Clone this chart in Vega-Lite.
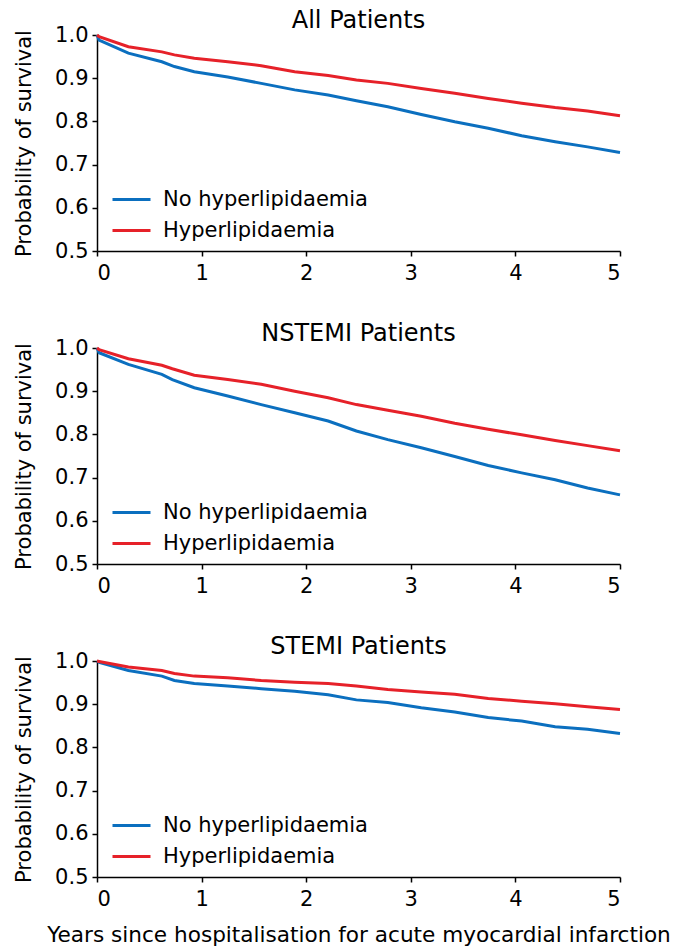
{
  "$schema": "https://vega.github.io/schema/vega-lite/v6.json",
  "padding": {"left": 13, "top": 9, "right": 5, "bottom": 0},
  "background": "white",
  "datasets": {
    "km": [
      {"p": "All", "g": "No hyperlipidaemia", "t": 0, "s": 1.0},
      {"p": "All", "g": "No hyperlipidaemia", "t": 0.02, "s": 0.988},
      {"p": "All", "g": "No hyperlipidaemia", "t": 0.3, "s": 0.958},
      {"p": "All", "g": "No hyperlipidaemia", "t": 0.62, "s": 0.938},
      {"p": "All", "g": "No hyperlipidaemia", "t": 0.74, "s": 0.927},
      {"p": "All", "g": "No hyperlipidaemia", "t": 0.93, "s": 0.915},
      {"p": "All", "g": "No hyperlipidaemia", "t": 1.25, "s": 0.903},
      {"p": "All", "g": "No hyperlipidaemia", "t": 1.57, "s": 0.888},
      {"p": "All", "g": "No hyperlipidaemia", "t": 1.89, "s": 0.873},
      {"p": "All", "g": "No hyperlipidaemia", "t": 2.21, "s": 0.861},
      {"p": "All", "g": "No hyperlipidaemia", "t": 2.48, "s": 0.848},
      {"p": "All", "g": "No hyperlipidaemia", "t": 2.78, "s": 0.834},
      {"p": "All", "g": "No hyperlipidaemia", "t": 3.1, "s": 0.816},
      {"p": "All", "g": "No hyperlipidaemia", "t": 3.42, "s": 0.799},
      {"p": "All", "g": "No hyperlipidaemia", "t": 3.74, "s": 0.784},
      {"p": "All", "g": "No hyperlipidaemia", "t": 4.06, "s": 0.767},
      {"p": "All", "g": "No hyperlipidaemia", "t": 4.38, "s": 0.753},
      {"p": "All", "g": "No hyperlipidaemia", "t": 4.69, "s": 0.741},
      {"p": "All", "g": "No hyperlipidaemia", "t": 5.0, "s": 0.728},
      {"p": "All", "g": "Hyperlipidaemia", "t": 0, "s": 1.0},
      {"p": "All", "g": "Hyperlipidaemia", "t": 0.02, "s": 0.996},
      {"p": "All", "g": "Hyperlipidaemia", "t": 0.3, "s": 0.973},
      {"p": "All", "g": "Hyperlipidaemia", "t": 0.62, "s": 0.961},
      {"p": "All", "g": "Hyperlipidaemia", "t": 0.74, "s": 0.954},
      {"p": "All", "g": "Hyperlipidaemia", "t": 0.93, "s": 0.946},
      {"p": "All", "g": "Hyperlipidaemia", "t": 1.25, "s": 0.938},
      {"p": "All", "g": "Hyperlipidaemia", "t": 1.57, "s": 0.929},
      {"p": "All", "g": "Hyperlipidaemia", "t": 1.89, "s": 0.915},
      {"p": "All", "g": "Hyperlipidaemia", "t": 2.21, "s": 0.906},
      {"p": "All", "g": "Hyperlipidaemia", "t": 2.48, "s": 0.896},
      {"p": "All", "g": "Hyperlipidaemia", "t": 2.78, "s": 0.888},
      {"p": "All", "g": "Hyperlipidaemia", "t": 3.1, "s": 0.876},
      {"p": "All", "g": "Hyperlipidaemia", "t": 3.42, "s": 0.865},
      {"p": "All", "g": "Hyperlipidaemia", "t": 3.74, "s": 0.853},
      {"p": "All", "g": "Hyperlipidaemia", "t": 4.06, "s": 0.842},
      {"p": "All", "g": "Hyperlipidaemia", "t": 4.38, "s": 0.832},
      {"p": "All", "g": "Hyperlipidaemia", "t": 4.69, "s": 0.824},
      {"p": "All", "g": "Hyperlipidaemia", "t": 5.0, "s": 0.813},
      {"p": "NSTEMI", "g": "No hyperlipidaemia", "t": 0, "s": 1.0},
      {"p": "NSTEMI", "g": "No hyperlipidaemia", "t": 0.02, "s": 0.989},
      {"p": "NSTEMI", "g": "No hyperlipidaemia", "t": 0.3, "s": 0.962},
      {"p": "NSTEMI", "g": "No hyperlipidaemia", "t": 0.62, "s": 0.939},
      {"p": "NSTEMI", "g": "No hyperlipidaemia", "t": 0.72, "s": 0.927},
      {"p": "NSTEMI", "g": "No hyperlipidaemia", "t": 0.93, "s": 0.908},
      {"p": "NSTEMI", "g": "No hyperlipidaemia", "t": 1.25, "s": 0.889},
      {"p": "NSTEMI", "g": "No hyperlipidaemia", "t": 1.57, "s": 0.869},
      {"p": "NSTEMI", "g": "No hyperlipidaemia", "t": 1.89, "s": 0.850},
      {"p": "NSTEMI", "g": "No hyperlipidaemia", "t": 2.21, "s": 0.831},
      {"p": "NSTEMI", "g": "No hyperlipidaemia", "t": 2.48, "s": 0.808},
      {"p": "NSTEMI", "g": "No hyperlipidaemia", "t": 2.78, "s": 0.788},
      {"p": "NSTEMI", "g": "No hyperlipidaemia", "t": 3.1, "s": 0.769},
      {"p": "NSTEMI", "g": "No hyperlipidaemia", "t": 3.42, "s": 0.749},
      {"p": "NSTEMI", "g": "No hyperlipidaemia", "t": 3.74, "s": 0.728},
      {"p": "NSTEMI", "g": "No hyperlipidaemia", "t": 4.06, "s": 0.711},
      {"p": "NSTEMI", "g": "No hyperlipidaemia", "t": 4.38, "s": 0.695},
      {"p": "NSTEMI", "g": "No hyperlipidaemia", "t": 4.69, "s": 0.676},
      {"p": "NSTEMI", "g": "No hyperlipidaemia", "t": 5.0, "s": 0.660},
      {"p": "NSTEMI", "g": "Hyperlipidaemia", "t": 0, "s": 1.0},
      {"p": "NSTEMI", "g": "Hyperlipidaemia", "t": 0.02, "s": 0.996},
      {"p": "NSTEMI", "g": "Hyperlipidaemia", "t": 0.3, "s": 0.975},
      {"p": "NSTEMI", "g": "Hyperlipidaemia", "t": 0.62, "s": 0.960},
      {"p": "NSTEMI", "g": "Hyperlipidaemia", "t": 0.72, "s": 0.952},
      {"p": "NSTEMI", "g": "Hyperlipidaemia", "t": 0.93, "s": 0.937},
      {"p": "NSTEMI", "g": "Hyperlipidaemia", "t": 1.25, "s": 0.927},
      {"p": "NSTEMI", "g": "Hyperlipidaemia", "t": 1.57, "s": 0.916},
      {"p": "NSTEMI", "g": "Hyperlipidaemia", "t": 1.89, "s": 0.900},
      {"p": "NSTEMI", "g": "Hyperlipidaemia", "t": 2.21, "s": 0.885},
      {"p": "NSTEMI", "g": "Hyperlipidaemia", "t": 2.48, "s": 0.869},
      {"p": "NSTEMI", "g": "Hyperlipidaemia", "t": 2.78, "s": 0.856},
      {"p": "NSTEMI", "g": "Hyperlipidaemia", "t": 3.1, "s": 0.842},
      {"p": "NSTEMI", "g": "Hyperlipidaemia", "t": 3.42, "s": 0.826},
      {"p": "NSTEMI", "g": "Hyperlipidaemia", "t": 3.74, "s": 0.812},
      {"p": "NSTEMI", "g": "Hyperlipidaemia", "t": 4.06, "s": 0.799},
      {"p": "NSTEMI", "g": "Hyperlipidaemia", "t": 4.38, "s": 0.786},
      {"p": "NSTEMI", "g": "Hyperlipidaemia", "t": 4.69, "s": 0.774},
      {"p": "NSTEMI", "g": "Hyperlipidaemia", "t": 5.0, "s": 0.762},
      {"p": "STEMI", "g": "No hyperlipidaemia", "t": 0, "s": 1.0},
      {"p": "STEMI", "g": "No hyperlipidaemia", "t": 0.02, "s": 0.997},
      {"p": "STEMI", "g": "No hyperlipidaemia", "t": 0.3, "s": 0.978},
      {"p": "STEMI", "g": "No hyperlipidaemia", "t": 0.62, "s": 0.965},
      {"p": "STEMI", "g": "No hyperlipidaemia", "t": 0.74, "s": 0.955},
      {"p": "STEMI", "g": "No hyperlipidaemia", "t": 0.93, "s": 0.948},
      {"p": "STEMI", "g": "No hyperlipidaemia", "t": 1.25, "s": 0.942},
      {"p": "STEMI", "g": "No hyperlipidaemia", "t": 1.57, "s": 0.936},
      {"p": "STEMI", "g": "No hyperlipidaemia", "t": 1.89, "s": 0.930},
      {"p": "STEMI", "g": "No hyperlipidaemia", "t": 2.21, "s": 0.922},
      {"p": "STEMI", "g": "No hyperlipidaemia", "t": 2.48, "s": 0.910},
      {"p": "STEMI", "g": "No hyperlipidaemia", "t": 2.78, "s": 0.904},
      {"p": "STEMI", "g": "No hyperlipidaemia", "t": 3.1, "s": 0.892},
      {"p": "STEMI", "g": "No hyperlipidaemia", "t": 3.42, "s": 0.882},
      {"p": "STEMI", "g": "No hyperlipidaemia", "t": 3.74, "s": 0.869},
      {"p": "STEMI", "g": "No hyperlipidaemia", "t": 4.06, "s": 0.861},
      {"p": "STEMI", "g": "No hyperlipidaemia", "t": 4.38, "s": 0.848},
      {"p": "STEMI", "g": "No hyperlipidaemia", "t": 4.69, "s": 0.842},
      {"p": "STEMI", "g": "No hyperlipidaemia", "t": 5.0, "s": 0.832},
      {"p": "STEMI", "g": "Hyperlipidaemia", "t": 0, "s": 1.0},
      {"p": "STEMI", "g": "Hyperlipidaemia", "t": 0.02, "s": 0.999},
      {"p": "STEMI", "g": "Hyperlipidaemia", "t": 0.3, "s": 0.986},
      {"p": "STEMI", "g": "Hyperlipidaemia", "t": 0.62, "s": 0.978},
      {"p": "STEMI", "g": "Hyperlipidaemia", "t": 0.74, "s": 0.971},
      {"p": "STEMI", "g": "Hyperlipidaemia", "t": 0.93, "s": 0.965},
      {"p": "STEMI", "g": "Hyperlipidaemia", "t": 1.25, "s": 0.961},
      {"p": "STEMI", "g": "Hyperlipidaemia", "t": 1.57, "s": 0.955},
      {"p": "STEMI", "g": "Hyperlipidaemia", "t": 1.89, "s": 0.951},
      {"p": "STEMI", "g": "Hyperlipidaemia", "t": 2.21, "s": 0.948},
      {"p": "STEMI", "g": "Hyperlipidaemia", "t": 2.48, "s": 0.942},
      {"p": "STEMI", "g": "Hyperlipidaemia", "t": 2.78, "s": 0.934},
      {"p": "STEMI", "g": "Hyperlipidaemia", "t": 3.1, "s": 0.928},
      {"p": "STEMI", "g": "Hyperlipidaemia", "t": 3.42, "s": 0.923},
      {"p": "STEMI", "g": "Hyperlipidaemia", "t": 3.74, "s": 0.913},
      {"p": "STEMI", "g": "Hyperlipidaemia", "t": 4.06, "s": 0.907},
      {"p": "STEMI", "g": "Hyperlipidaemia", "t": 4.38, "s": 0.901},
      {"p": "STEMI", "g": "Hyperlipidaemia", "t": 4.69, "s": 0.894},
      {"p": "STEMI", "g": "Hyperlipidaemia", "t": 5.0, "s": 0.888}
    ]
  },
  "config": {
    "font": "DejaVu Sans",
    "view": {"stroke": null},
    "axis": {
      "domainColor": "#000", "tickColor": "#000", "labelColor": "#000", "titleColor": "#000",
      "grid": false, "labelFontSize": 21, "titleFontSize": 21, "titleFontWeight": "normal",
      "tickSize": 5, "domainWidth": 1.5, "tickWidth": 1.5
    },
    "title": {"fontSize": 24, "fontWeight": "normal", "color": "#000", "offset": -9, "baseline": "alphabetic"},
    "legend": {
      "orient": "none", "legendX": 14, "legendY": 144, "title": null,
      "symbolType": "stroke", "symbolSize": 1444, "symbolStrokeWidth": 3,
      "labelFontSize": 21, "labelColor": "#000", "labelOffset": 11, "labelLimit": 400, "rowPadding": -6, "padding": 0
    },
    "concat": {"spacing": 39}
  },
  "vconcat": [
    {
      "title": "All Patients",
      "width": 523, "height": 216,
      "data": {"name": "km"},
      "transform": [{"filter": "datum.p === 'All'"}],
      "mark": {"type": "line", "strokeWidth": 3},
      "encoding": {
        "x": {"field": "t", "type": "quantitative", "scale": {"domain": [0, 5], "nice": false},
              "axis": {"values": [0, 1, 2, 3, 4, 5], "format": "d", "title": null, "labelPadding": 6}},
        "y": {"field": "s", "type": "quantitative", "scale": {"domain": [0.5, 1], "zero": false, "nice": false},
              "axis": {"values": [0.5, 0.6, 0.7, 0.8, 0.9, 1.0], "format": ".1f", "title": "Probability of survival", "labelPadding": 4, "titlePadding": 20}},
        "color": {"field": "g", "type": "nominal",
                  "scale": {"domain": ["No hyperlipidaemia", "Hyperlipidaemia"], "range": ["#0B6FBF", "#E62129"]}}
      }
    },
    {
      "title": "NSTEMI Patients",
      "width": 523, "height": 216,
      "data": {"name": "km"},
      "transform": [{"filter": "datum.p === 'NSTEMI'"}],
      "mark": {"type": "line", "strokeWidth": 3},
      "encoding": {
        "x": {"field": "t", "type": "quantitative", "scale": {"domain": [0, 5], "nice": false},
              "axis": {"values": [0, 1, 2, 3, 4, 5], "format": "d", "title": null, "labelPadding": 6}},
        "y": {"field": "s", "type": "quantitative", "scale": {"domain": [0.5, 1], "zero": false, "nice": false},
              "axis": {"values": [0.5, 0.6, 0.7, 0.8, 0.9, 1.0], "format": ".1f", "title": "Probability of survival", "labelPadding": 4, "titlePadding": 20}},
        "color": {"field": "g", "type": "nominal",
                  "scale": {"domain": ["No hyperlipidaemia", "Hyperlipidaemia"], "range": ["#0B6FBF", "#E62129"]}}
      }
    },
    {
      "title": "STEMI Patients",
      "width": 523, "height": 216,
      "data": {"name": "km"},
      "transform": [{"filter": "datum.p === 'STEMI'"}],
      "mark": {"type": "line", "strokeWidth": 3},
      "encoding": {
        "x": {"field": "t", "type": "quantitative", "scale": {"domain": [0, 5], "nice": false},
              "axis": {"values": [0, 1, 2, 3, 4, 5], "format": "d", "title": "Years since hospitalisation for acute myocardial infarction", "labelPadding": 6, "titlePadding": 15, "titleFontSize": 21.6}},
        "y": {"field": "s", "type": "quantitative", "scale": {"domain": [0.5, 1], "zero": false, "nice": false},
              "axis": {"values": [0.5, 0.6, 0.7, 0.8, 0.9, 1.0], "format": ".1f", "title": "Probability of survival", "labelPadding": 4, "titlePadding": 20}},
        "color": {"field": "g", "type": "nominal",
                  "scale": {"domain": ["No hyperlipidaemia", "Hyperlipidaemia"], "range": ["#0B6FBF", "#E62129"]}}
      }
    }
  ],
  "resolve": {"scale": {"color": "independent"}, "legend": {"color": "independent"}}
}
